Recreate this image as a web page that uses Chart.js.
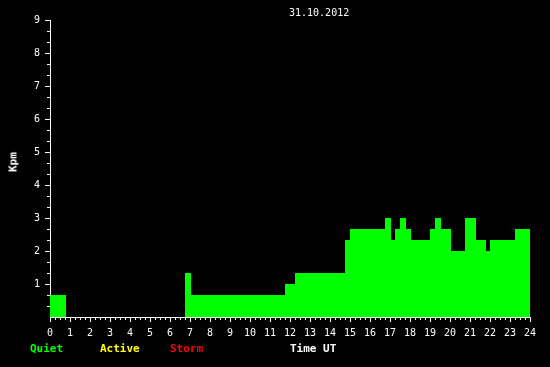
<!DOCTYPE html>
<html>
<head>
<meta charset="utf-8">
<script src="https://cdn.jsdelivr.net/npm/chart.js@4.4.0/dist/chart.umd.min.js"></script>
<style>
    body { margin: 0; background: #000; }
    #wrap { position: relative; width: 550px; height: 367px; background: #000; overflow: hidden; }
    #myChart { position: absolute; left: 0; top: 0; }
    .txt { position: absolute; font-family: "DejaVu Sans Mono", monospace; white-space: nowrap; }
    .title { font-size: 10px; line-height: 12px; color: #fff; left: 289px; top: 7px; }
    .leg { font-size: 11px; line-height: 13px; font-weight: bold; top: 342px; }
    .ylab { font-size: 11px; line-height: 13px; font-weight: bold; color: #fff; left: 13px; top: 162px; transform: translate(-50%, -50%) rotate(-90deg); }
</style>
</head>
<body>
<div id="wrap">
    <canvas id="myChart" width="550" height="367"></canvas>
    <div class="txt title">31.10.2012</div>
    <div class="txt ylab">Kpm</div>
    <div class="txt leg" style="left:30px;color:#00ff00">Quiet</div>
    <div class="txt leg" style="left:100px;color:#ffff00">Active</div>
    <div class="txt leg" style="left:170px;color:#ff0000">Storm</div>
    <div class="txt leg" style="left:290px;color:#ffffff">Time UT</div>
</div>
<script>
// hour (UT) where each level starts, and the Kpm level held until the next one
const times = [0, 0.8, 6.75, 7.05, 11.75, 12.25, 14.75, 15, 16.75, 17.05, 17.25, 17.5, 17.8, 18.05, 19, 19.25, 19.55, 20.05, 20.75, 21.3, 21.8, 22, 23.25, 24];
const kpm = [0.667, 0, 1.333, 0.667, 1, 1.333, 2.333, 2.667, 3, 2.333, 2.667, 3, 2.667, 2.333, 2.667, 3, 2.667, 2, 3, 2.333, 2, 2.333, 2.667, 2.667];

const xTicks = [0, 1, 2, 3, 4, 5, 6, 7, 8, 9, 10, 11, 12, 13, 14, 15, 16, 17, 18, 19, 20, 21, 22, 23, 24];
const yTicks = [1, 2, 3, 4, 5, 6, 7, 8, 9];

let points = [];
for (let i = 0; i < times.length; i++) {
    points.push({ x: times[i], y: kpm[i] });
}

/* small ticks: quarter hours on x, thirds on y */
const minorTicks = {
    id: 'minorTicks',
    afterDraw(chart) {
        const ctx = chart.ctx;
        const xs = chart.scales.x;
        const ys = chart.scales.y;
        ctx.save();
        ctx.strokeStyle = '#ffffff';
        ctx.lineWidth = 1;
        ctx.beginPath();
        for (let q = 0; q < 96; q++) {
            if (q % 4 === 0) continue;
            let px = Math.round(xs.getPixelForValue(q / 4)) + 0.5;
            ctx.moveTo(px, xs.top);
            ctx.lineTo(px, xs.top + 3);
        }
        for (let t = 0; t < 27; t++) {
            if (t % 3 === 0) continue;
            let py = Math.round(ys.getPixelForValue(t / 3)) + 0.5;
            ctx.moveTo(ys.right - 3, py);
            ctx.lineTo(ys.right, py);
        }
        ctx.stroke();
        ctx.restore();
    }
};

const tickFont = { family: 'DejaVu Sans Mono', size: 10 };

let ctx = document.getElementById('myChart');
let myChart = new Chart(ctx, {
    type: 'line',
    data: {
        datasets: [{
            data: points,
            stepped: true,
            fill: 'origin',
            backgroundColor: '#00ff00',
            borderColor: '#00ff00',
            borderWidth: 0,
            pointRadius: 0,
            tension: 0
        }]
    },
    options: {
        responsive: false,
        animation: false,
        layout: { padding: { left: 0, right: 20, top: 20, bottom: 0 } },
        plugins: { legend: { display: false }, tooltip: { enabled: false } },
        scales: {
            x: {
                type: 'linear',
                min: 0,
                max: 24,
                afterFit: function (scale) { scale.height = 50; },
                afterBuildTicks: function (scale) { scale.ticks = xTicks.map(v => ({ value: v })); },
                ticks: { color: '#ffffff', font: tickFont, padding: 5, maxRotation: 0, autoSkip: false },
                grid: { drawOnChartArea: false, tickLength: 5, tickColor: '#ffffff' },
                border: { color: '#ffffff', width: 1 }
            },
            y: {
                min: 0,
                max: 9,
                afterFit: function (scale) { scale.width = 50; },
                afterBuildTicks: function (scale) { scale.ticks = yTicks.map(v => ({ value: v })); },
                ticks: { color: '#ffffff', font: tickFont, padding: 5 },
                grid: { drawOnChartArea: false, tickLength: 5, tickColor: '#ffffff' },
                border: { color: '#ffffff', width: 1 }
            }
        }
    },
    plugins: [minorTicks]
});
</script>
</body>
</html>
